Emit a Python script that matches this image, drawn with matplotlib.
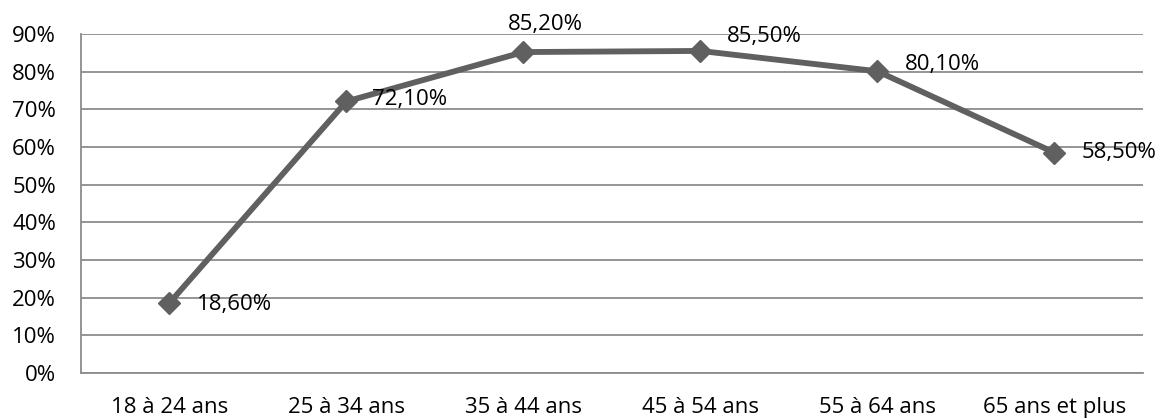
import matplotlib.pyplot as plt
from matplotlib.ticker import FuncFormatter

# tranches d'age et taux
categories = ['18 à 24 ans', '25 à 34 ans', '35 à 44 ans', '45 à 54 ans', '55 à 64 ans', '65 ans et plus']
values = [18.6, 72.1, 85.2, 85.5, 80.1, 58.5]
labels = ['18,60%', '72,10%', '85,20%', '85,50%', '80,10%', '58,50%']
# label offsets in pixels
offsets = [(27, -2), (26, 2), (-16, 28), (26, 14), (27, 7), (27, 0)]

plt.rcParams['font.family'] = ['Open Sans', 'DejaVu Sans']

fig = plt.figure(figsize=(11.62, 4.19), dpi=100)
ax = fig.add_axes([0.0697, 0.1098, 0.9139, 0.8091])

x = range(len(categories))
ax.plot(x, values, color='#606060', lw=4.2, marker='D', ms=11.5, mec='#606060', mfc='#606060', zorder=3)

for i, (v, lab, off) in enumerate(zip(values, labels, offsets)):
    ax.annotate(lab, (i, v), xytext=off, textcoords='offset pixels',
                ha='left', va='center', fontsize=16, color='black')

ax.set_xlim(-0.5, len(categories) - 0.5)
ax.set_ylim(0, 90)
ax.set_yticks(range(0, 91, 10))
ax.yaxis.set_major_formatter(FuncFormatter(lambda v, p: f'{int(v)}%'))
ax.set_xticks(list(x))
ax.set_xticklabels(categories)
ax.tick_params(axis='both', length=0, labelsize=16)
ax.tick_params(axis='y', pad=18)
ax.tick_params(axis='x', pad=17)

ax.grid(axis='y', color='#8c8c8c', lw=1.3)
ax.set_axisbelow(True)
for s in ['top', 'right']:
    ax.spines[s].set_visible(False)
for s in ['left', 'bottom']:
    ax.spines[s].set_color('#8c8c8c')
    ax.spines[s].set_linewidth(1.3)

fig.savefig('out.png', dpi=100)
